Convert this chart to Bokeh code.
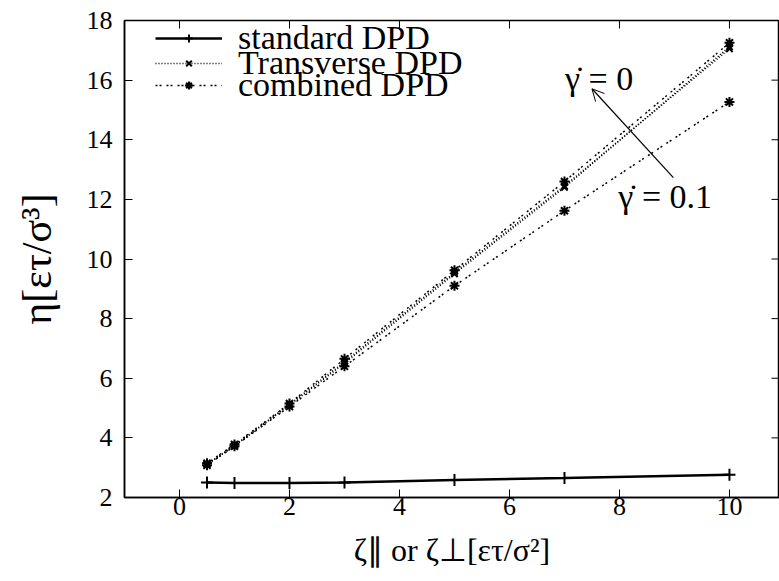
from bokeh.plotting import figure
from bokeh.models import Range1d, Legend, LegendItem, Label, Arrow, OpenHead, FixedTicker
from bokeh.embed import file_html
from bokeh.resources import INLINE

# ---- data ----
zeta = [0.5, 1, 2, 3, 5, 7, 10]
eta_standard = [2.50, 2.49, 2.49, 2.50, 2.59, 2.65, 2.76]
eta_transverse_g0 = [3.12, 3.75, 5.12, 6.55, 9.55, 12.45, 17.05]
eta_transverse_g01 = [3.10, 3.73, 5.10, 6.50, 9.50, 12.40, 17.12]
eta_combined_g0 = [3.15, 3.78, 5.15, 6.65, 9.62, 12.60, 17.25]
eta_combined_g01 = [3.08, 3.72, 5.05, 6.40, 9.10, 11.62, 15.27]

x_ticks = [0, 2, 4, 6, 8, 10]
y_ticks = [2, 4, 6, 8, 10, 12, 14, 16, 18]

legend_labels = ["standard DPD", "Transverse DPD", "combined DPD"]
label_g0 = "\u03b3\u0307 = 0"
label_g01 = "\u03b3\u0307 = 0.1"
x_label = "\u03b6\u2225 or \u03b6\u22a5[\u03b5\u03c4/\u03c3\u00b2]"
y_label = "\u03b7[\u03b5\u03c4/\u03c3\u00b3]"

FONT = "Liberation Serif"        # used by the legend
TFONT = "Times New Roman"        # metric alias of Liberation Serif, for axis/label text
X0, X1 = -1, 10.91
Y0, Y1 = 2, 18

p = figure(width=779, height=581, output_backend="svg", toolbar_location=None,
           x_range=Range1d(X0, X1), y_range=Range1d(Y0, Y1),
           min_border_left=124, min_border_top=20, min_border_right=0, min_border_bottom=84)
p.grid.visible = False
p.outline_line_color = "black"
p.outline_line_width = 1.5
p.background_fill_color = "white"
p.border_fill_color = "white"

for ax in (p.xaxis[0], p.yaxis[0]):
    ax.major_tick_in = 8
    ax.major_tick_out = 0
    ax.minor_tick_in = 0
    ax.minor_tick_out = 0
    ax.axis_line_color = "black"
    ax.axis_line_width = 1.5
    ax.major_tick_line_width = 1
    ax.major_label_text_font = TFONT
    ax.major_label_text_font_size = "26px"
    ax.major_label_text_color = "black"
    ax.axis_label_text_font = TFONT
    ax.axis_label_text_font_style = "normal"
    ax.axis_label_text_color = "black"

p.xaxis[0].ticker = FixedTicker(ticks=x_ticks)
p.yaxis[0].ticker = FixedTicker(ticks=y_ticks)
p.xaxis[0].axis_label = x_label
p.yaxis[0].axis_label = y_label
p.xaxis[0].axis_label_text_font_size = "32px"
p.yaxis[0].axis_label_text_font_size = "42px"
p.xaxis[0].major_label_standoff = 0
p.xaxis[0].axis_label_standoff = 14
p.yaxis[0].major_label_standoff = 12
p.yaxis[0].axis_label_standoff = 24

# mirror ticks (top and right), derived from the tick lists and ranges
tick_dy = (Y1 - Y0) * 8 / 477
tick_dx = (X1 - X0) * 8 / 655
p.segment(x0=x_ticks, y0=[Y1] * len(x_ticks), x1=x_ticks, y1=[Y1 - tick_dy] * len(x_ticks),
          line_color="black", line_width=1)
p.segment(x0=[X1] * len(y_ticks), y0=y_ticks, x1=[X1 - tick_dx] * len(y_ticks), y1=y_ticks,
          line_color="black", line_width=1)

# series
r_std_l = p.line(zeta, eta_standard, line_color="black", line_width=2.5)
r_std_m = p.scatter(zeta, eta_standard, marker="cross", size=12, line_color="black", line_width=2)

r_tr_l = p.line(zeta, eta_transverse_g0, line_color="black", line_width=1.5, line_dash="1 2")
r_tr_m = p.scatter(zeta, eta_transverse_g0, marker="x", size=9, line_color="black", line_width=2)
p.line(zeta, eta_transverse_g01, line_color="black", line_width=1.5, line_dash="1 2")
p.scatter(zeta, eta_transverse_g01, marker="x", size=9, line_color="black", line_width=2)

r_cb_l = p.line(zeta, eta_combined_g0, line_color="black", line_width=1.5, line_dash="2 2 2 5")
r_cb_m = p.scatter(zeta, eta_combined_g0, marker="asterisk", size=10, line_color="black", line_width=2)
p.line(zeta, eta_combined_g01, line_color="black", line_width=1.5, line_dash="2 2 2 5")
p.scatter(zeta, eta_combined_g01, marker="asterisk", size=10, line_color="black", line_width=2)

rows = [(legend_labels[0], [r_std_l, r_std_m], 440),
        (legend_labels[1], [r_tr_l, r_tr_m], 415),
        (legend_labels[2], [r_cb_l, r_cb_m], 393)]
for lab, rends, ypos in rows:
    lg = Legend(items=[LegendItem(label=lab, renderers=rends)],
                location=(31, ypos), orientation="vertical", margin=0, padding=0, spacing=0,
                glyph_width=67, glyph_height=20, label_height=20, label_standoff=16,
                label_text_font=FONT, label_text_font_size="34px", label_text_color="black",
                border_line_alpha=0, background_fill_alpha=0)
    p.add_layout(lg, "center")

p.add_layout(Label(x=7.01, y=16.06, text=label_g0, text_font=TFONT, text_font_size="34px",
                   text_baseline="middle", text_align="left", text_color="black"))
p.add_layout(Label(x=7.98, y=12.08, text=label_g01, text_font=TFONT, text_font_size="34px",
                   text_baseline="middle", text_align="left", text_color="black"))
p.add_layout(Arrow(end=OpenHead(size=12, line_width=1, line_color="black"),
                   x_start=8.98, y_start=12.73, x_end=7.50, y_end=15.71,
                   line_width=1.2, line_color="black"))

open("out.html", "w").write(file_html(p, INLINE))
